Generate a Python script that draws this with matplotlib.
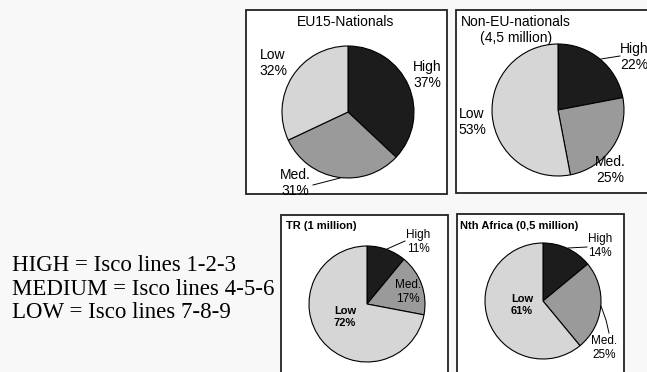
import matplotlib.pyplot as plt
from matplotlib.patches import Rectangle

# skill shares (%) per group: high, medium, low
levels = ["High", "Med.", "Low"]
eu15 = [37, 31, 32]
non_eu = [22, 25, 53]
turkey = [11, 17, 72]
nth_africa = [14, 25, 61]

titles = ["EU15-Nationals", "Non-EU-nationals\n(4,5 million)",
          "TR (1 million)", "Nth Africa (0,5 million)"]
legend_lines = ["HIGH = Isco lines 1-2-3",
                "MEDIUM = Isco lines 4-5-6",
                "LOW = Isco lines 7-8-9"]

colors = ["#1c1c1c", "#9a9a9a", "#d6d6d6"]
W, H = 647, 372

fig = plt.figure(figsize=(W / 100, H / 100), dpi=100, facecolor="#f8f8f8")
ax = fig.add_axes([0, 0, 1, 1])

# frames around each pie
frames = [(246, 178, 201, 184), (456, 179, 200, 183),
          (281, -5, 167, 162), (457, -5, 167, 163)]
for x0, y0, w, h in frames:
    ax.add_patch(Rectangle((x0, y0), w, h, facecolor="white",
                           edgecolor="#222222", lw=1.3, zorder=1))

sans = "Liberation Sans"
pies = [
    (eu15, (348, 260), 66),
    (non_eu, (558, 262), 66),
    (turkey, (367, 68), 58),
    (nth_africa, (543, 71), 58),
]
for vals, c, r in pies:
    wedges, _ = ax.pie(vals, colors=colors, center=c, radius=r, startangle=90,
                       counterclock=False,
                       wedgeprops=dict(edgecolor="black", linewidth=0.8))
    for w in wedges:
        w.set_zorder(2)

def lab(i, k, vals, x, y, size, weight="normal"):
    ax.text(x, y, f"{levels[k]}\n{vals[k]}%", ha="center", va="center",
            fontsize=size, fontweight=weight, family=sans, linespacing=1.15,
            zorder=4)

# EU15
ax.text(346, 350, titles[0], ha="center", va="center", fontsize=10, family=sans)
lab(0, 0, eu15, 427, 297, 10)
lab(0, 2, eu15, 273, 309, 10)
lab(0, 1, eu15, 295, 189, 10)
ax.plot([313, 340], [187, 194], color="black", lw=0.7, zorder=3)

# non-EU
ax.text(516, 342, titles[1], ha="center", va="center", fontsize=10,
        family=sans, linespacing=1.15)
lab(1, 0, non_eu, 634, 315, 10)
ax.plot([620, 601], [316, 313], color="black", lw=0.7, zorder=3)
lab(1, 2, non_eu, 472, 250, 10)
lab(1, 1, non_eu, 610, 202, 10)

# Turkey
ax.text(286, 146, titles[2], ha="left", va="center", fontsize=8,
        fontweight="bold", family=sans)
lab(2, 0, turkey, 418, 130, 8.5)
ax.plot([405, 387], [131, 123], color="black", lw=0.7, zorder=3)
lab(2, 1, turkey, 408, 80, 8.5)
lab(2, 2, turkey, 345, 55, 8, "bold")

# North Africa
ax.text(460, 146, titles[3], ha="left", va="center", fontsize=8,
        fontweight="bold", family=sans)
lab(3, 0, nth_africa, 600, 126, 8.5)
ax.plot([587, 568], [125, 124], color="black", lw=0.7, zorder=3)
lab(3, 1, nth_africa, 604, 24, 8.5)
ax.plot([601, 606, 609], [66, 52, 39], color="black", lw=0.7, zorder=3)
lab(3, 2, nth_africa, 522, 67, 8, "bold")

# ISCO key on the left
for t, yb in zip(legend_lines, [101, 77, 54]):
    ax.text(12, yb, t, ha="left", va="baseline", fontsize=16.5,
            family="Liberation Serif")

ax.set_xlim(0, W)
ax.set_ylim(0, H)
ax.set_aspect("equal")
ax.axis("off")

fig.savefig("out.png", dpi=100, facecolor=fig.get_facecolor())
